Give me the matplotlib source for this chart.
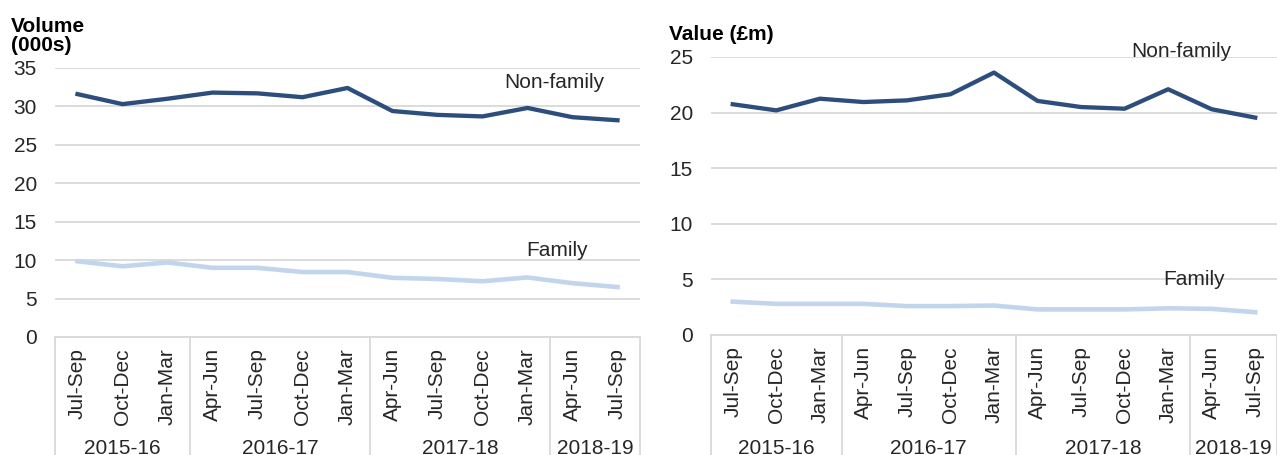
import matplotlib
matplotlib.use("Agg")
import matplotlib.pyplot as plt
from matplotlib.transforms import blended_transform_factory

plt.rcParams["font.family"] = ["Liberation Sans", "DejaVu Sans"]

quarters = ["Jul-Sep", "Oct-Dec", "Jan-Mar",
            "Apr-Jun", "Jul-Sep", "Oct-Dec", "Jan-Mar",
            "Apr-Jun", "Jul-Sep", "Oct-Dec", "Jan-Mar",
            "Apr-Jun", "Jul-Sep"]
years = ["2015-16", "2016-17", "2017-18", "2018-19"]
year_sizes = [3, 4, 4, 2]

volume_nonfamily = [31.6, 30.3, 31.0, 31.8, 31.7, 31.2, 32.4, 29.4, 28.9, 28.7, 29.8, 28.6, 28.2]
volume_family = [9.85, 9.2, 9.7, 9.0, 9.0, 8.45, 8.45, 7.7, 7.55, 7.25, 7.75, 7.0, 6.5]
value_nonfamily = [20.75, 20.2, 21.25, 20.95, 21.1, 21.65, 23.6, 21.05, 20.5, 20.35, 22.1, 20.3, 19.55]
value_family = [3.0, 2.8, 2.8, 2.8, 2.6, 2.6, 2.65, 2.3, 2.3, 2.3, 2.4, 2.35, 2.05]

DARK = "#2D4D7C"
LIGHT = "#C3D5EC"
GRID = "#D9D9D9"
TXT = "#262626"
FS = 15

W, H = 1277, 455
fig = plt.figure(figsize=(W / 100, H / 100), dpi=100)


def panel(rect, nonfam, fam, ymax, ylabel, ylabel_xy, nf_xy, f_xy):
    ax = fig.add_axes(rect)
    x = list(range(len(quarters)))
    ax.plot(x, fam, color=LIGHT, lw=3.3, solid_joinstyle="round", zorder=3)
    ax.plot(x, nonfam, color=DARK, lw=3.1, solid_joinstyle="round", zorder=4)
    ax.set_xlim(-0.5, len(quarters) - 0.5)
    ax.set_ylim(0, ymax)
    ax.set_yticks(range(0, ymax + 1, 5))
    ax.grid(axis="y", color=GRID, lw=1.3)
    ax.set_axisbelow(True)
    for s in ["top", "right", "left"]:
        ax.spines[s].set_visible(False)
    ax.spines["bottom"].set_color(GRID)
    ax.spines["bottom"].set_linewidth(1.3)
    ax.tick_params(axis="y", length=0, pad=13, labelsize=FS, labelcolor=TXT)
    ax.set_xticks(x)
    ax.set_xticklabels(quarters, rotation=90, fontsize=FS, color=TXT)
    ax.tick_params(axis="x", length=0, pad=8)

    # category box: separators between financial years
    tr = blended_transform_factory(ax.transData, ax.transAxes)
    tr_fig = blended_transform_factory(ax.transData, fig.transFigure)
    edges = [-0.5]
    for n in year_sizes:
        edges.append(edges[-1] + n)
    for e in edges:
        ax.plot([e, e], [0, -1], transform=tr, color=GRID, lw=1.3, clip_on=False)
    for i, yr in enumerate(years):
        cx = (edges[i] + edges[i + 1]) / 2
        ax.text(cx, (H - 448) / H, yr, transform=tr_fig, ha="center", va="center",
                fontsize=FS, color=TXT)

    ax.text(nf_xy[0], nf_xy[1], "Non-family", ha="center", va="center",
            fontsize=FS, color=TXT, clip_on=False)
    ax.text(f_xy[0], f_xy[1], "Family", ha="center", va="center",
            fontsize=FS, color=TXT, clip_on=False)
    fig.text(ylabel_xy[0] / W, 1 - ylabel_xy[1] / H, ylabel, ha="left", va="center",
             fontsize=FS, fontweight="bold", color="black", linespacing=1.05)
    return ax


panel([55 / W, (H - 337) / H, 585 / W, 269 / H],
      volume_nonfamily, volume_family, 35, "Volume\n(000s)", (11, 36),
      (10.6, 33.1), (10.65, 11.2))
panel([711 / W, (H - 335) / H, 566 / W, 278 / H],
      value_nonfamily, value_family, 25, "Value (£m)", (669, 35),
      (10.3, 25.5), (10.6, 4.95))

fig.savefig("out.png", dpi=100)
